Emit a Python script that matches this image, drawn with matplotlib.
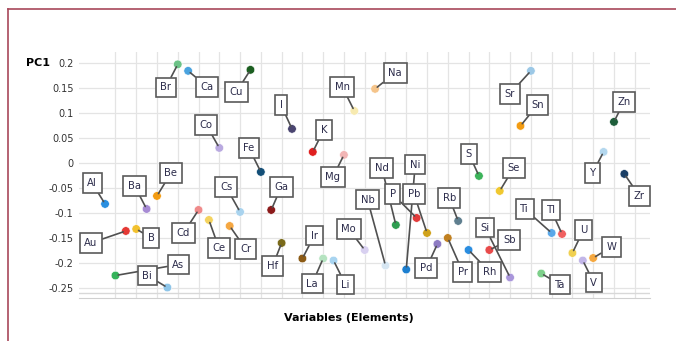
import matplotlib.pyplot as plt
from matplotlib.lines import Line2D

# elementos (ordem alfabetica no eixo x)
elements = ['Al', 'As', 'Au', 'B', 'Ba', 'Be', 'Bi', 'Br', 'Ca', 'Cd', 'Ce', 'Co', 'Cr',
            'Cs', 'Cu', 'Fe', 'Ga', 'Hf', 'I', 'Ir', 'K', 'La', 'Li', 'Mg', 'Mn', 'Mo',
            'Na', 'Nb', 'Nd', 'Ni', 'P', 'Pb', 'Pd', 'Pr', 'Rb', 'Rh', 'S', 'Sb', 'Se',
            'Si', 'Sn', 'Sr', 'Ta', 'Ti', 'Tl', 'U', 'V', 'W', 'Y', 'Zn', 'Zr']

pc1 = [-0.082, -0.225, -0.136, -0.132, -0.092, -0.066, -0.249, 0.197, 0.184, -0.094,
       -0.114, 0.030, -0.126, -0.098, 0.186, -0.018, -0.094, -0.160, 0.068, -0.191,
       0.022, -0.191, -0.195, 0.016, 0.104, -0.174, 0.148, -0.205, -0.124, -0.213,
       -0.110, -0.140, -0.162, -0.150, -0.116, -0.174, -0.026, -0.174, -0.056, -0.229,
       0.074, 0.184, -0.221, -0.140, -0.142, -0.180, -0.195, -0.190, 0.022, 0.082,
       -0.022]

colors = ['#2a8fe0', '#34b35a', '#e53935', '#f2c12e', '#a78bd4', '#f39c12', '#8ec5e8',
          '#6cc287', '#4aa3df', '#ef8a8a', '#f4d35e', '#b9a9e0', '#f5a742', '#a9d3ee',
          '#1b5e20', '#134f78', '#8b1a1a', '#7a6a1a', '#4a4570', '#8b5a14', '#e02020',
          '#b5e3c0', '#a8d4f0', '#f2b5b5', '#f7eab0', '#d8d0f0', '#f5c48a', '#d6e6f2',
          '#2e9e50', '#1c7fd0', '#e23b3b', '#d0a21a', '#8e7cc3', '#c08020', '#5f7f8f',
          '#2a8de0', '#3cb35a', '#e84a4a', '#f0c830', '#a996db', '#f39c12', '#9cc8e6',
          '#7dcf8a', '#5aa8e8', '#f06060', '#f0d050', '#c2b6e8', '#f5a840', '#b3d7ee',
          '#1e5e3a', '#1a3f66']

# deslocamento das etiquetas em pixels (dx, dy) a partir do ponto
offsets = {
    'Al': (-13, 21), 'As': (63, 11), 'Au': (-35, -12), 'B': (15, -9), 'Ba': (-12, 23),
    'Be': (14, 23), 'Bi': (-20, 12), 'Br': (-12, -23), 'Ca': (19, -16), 'Cd': (-15, -23),
    'Ce': (10, -28), 'Co': (-13, 23), 'Cr': (16, -23), 'Cs': (-14, 25), 'Cu': (-14, -22),
    'Fe': (-12, 24), 'Ga': (10, 23), 'Hf': (-9, -23), 'I': (-11, 24), 'Ir': (12, 23),
    'K': (11, 22), 'La': (-11, -25), 'Li': (12, -24), 'Mg': (-11, -22), 'Mn': (-12, 24),
    'Mo': (-16, 21), 'Na': (20, 16), 'Nb': (-18, 66), 'Nd': (-14, 57), 'Ni': (9, 105),
    'P': (-24, 24), 'Pb': (-13, 39), 'Pd': (-11, -24), 'Pr': (15, -34), 'Rb': (-9, 23),
    'Rh': (21, -22), 'S': (-10, 22), 'Sb': (20, 10), 'Se': (14, 23), 'Si': (-25, 50),
    'Sn': (17, 21), 'Sr': (-21, -23), 'Ta': (19, -11), 'Ti': (-27, 24), 'Tl': (-11, 24),
    'U': (11, 23), 'V': (11, -22), 'W': (18, 11), 'Y': (-11, -21), 'Zn': (10, 20),
    'Zr': (15, -22),
}

fig = plt.figure(figsize=(6.76, 3.41), dpi=100)
ax = fig.add_axes([0.117, 0.126, 0.845, 0.722])

x = list(range(len(elements)))
ax.scatter(x, pc1, s=38, c=colors, edgecolors='white', linewidths=0.4, zorder=3)

for i, (el, v) in enumerate(zip(elements, pc1)):
    dx, dy = offsets[el]
    ax.annotate(el, (i, v), xytext=(dx, dy), textcoords='offset pixels',
                ha='center', va='center', fontsize=8, color='#2b2b4a',
                fontstretch='condensed', zorder=4,
                bbox=dict(boxstyle='square,pad=0.42', fc='white', ec='#5a5a5a', lw=1.2),
                arrowprops=dict(arrowstyle='-', color='#505050', lw=1.2,
                                shrinkA=0, shrinkB=2))

ax.set_xlim(-2.5, 52.5)
ax.set_ylim(-0.27, 0.222)
ax.set_yticks([0.2, 0.15, 0.1, 0.05, 0, -0.05, -0.1, -0.15, -0.2, -0.25])
ax.set_yticklabels(['0.2', '0.15', '0.1', '0.05', '0', '-0.05', '-0.1', '-0.15', '-0.2', '-0.25'])
ax.set_xticks(range(1, 52, 2))
ax.set_xticklabels([])
ax.tick_params(axis='both', length=0, labelsize=7, colors='#333333', pad=4)
ax.grid(True, color='#e4e4e4', lw=0.9)
ax.axhline(-0.26, color='#d8d8d8', lw=1)
for s in ['top', 'right', 'left']:
    ax.spines[s].set_visible(False)
ax.spines['bottom'].set_color('#d0d0d0')

fig.text(0.056, 0.815, 'PC1', fontsize=8, fontweight='bold', ha='center', va='center')
fig.text(0.516, 0.067, 'Variables (Elements)', fontsize=8, fontweight='bold',
         ha='center', va='center')

# moldura vermelha escura (topo e esquerda)
fig.add_artist(Line2D([0.012, 1.0], [0.974, 0.974], color='#a8485a', lw=1.2))
fig.add_artist(Line2D([0.012, 0.012], [0.0, 0.974], color='#a8485a', lw=1.2))

fig.savefig('out.png', dpi=100)
